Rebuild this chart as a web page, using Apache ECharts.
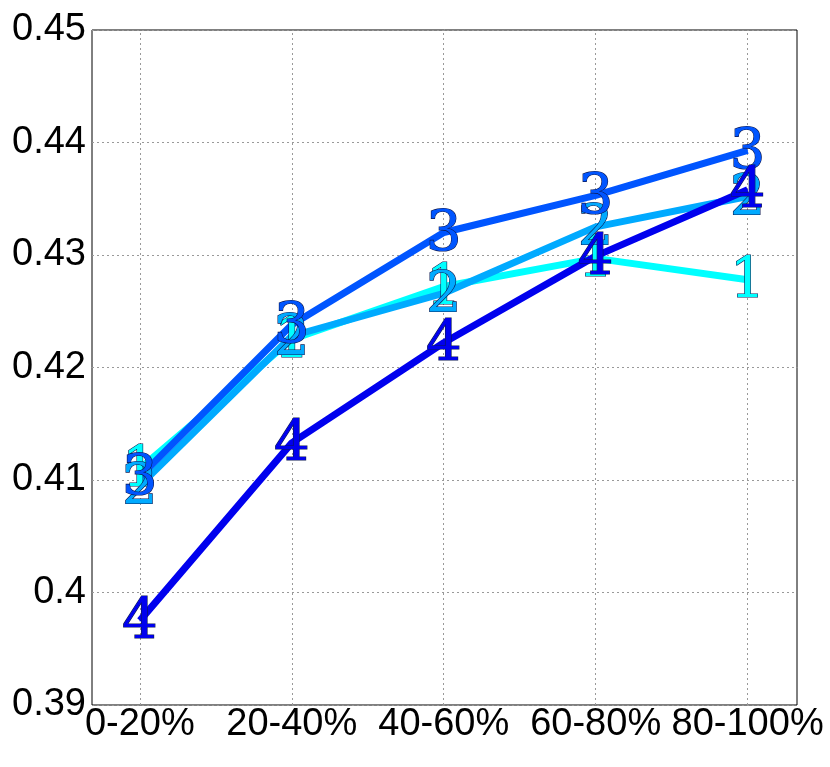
<!DOCTYPE html>
<html>
<head>
<meta charset="utf-8">
<script src="https://cdn.jsdelivr.net/npm/echarts@6/dist/echarts.min.js"></script>
<style>
  html, body { margin: 0; padding: 0; background: #fff; }
  #chart { width: 830px; height: 767px; }
</style>
</head>
<body>
<div id="chart"></div>
<script>
// categories on the x axis
var categories = ['0-20%', '20-40%', '40-60%', '60-80%', '80-100%'];
var yTicks = [0.39, 0.40, 0.41, 0.42, 0.43, 0.44, 0.45];

// one array per curve, marker = series name
var s1 = [0.4110, 0.4225, 0.4272, 0.4297, 0.4278];
var s2 = [0.4095, 0.4228, 0.4266, 0.4325, 0.4352];
var s3 = [0.4103, 0.4238, 0.4320, 0.4353, 0.4393];
var s4 = [0.3975, 0.4133, 0.4222, 0.4299, 0.4358];

var colors = ['#00ffff', '#00aaff', '#0055ff', '#0000ee'];

function pts(arr) {
    return arr.map(function (v, i) { return [i, v]; });
}

function mkSeries(name, data, color) {
    return {
        name: name,
        type: 'line',
        data: pts(data),
        symbol: 'circle',
        symbolSize: 1,
        lineStyle: { color: color, width: 7 },
        itemStyle: { color: color },
        label: {
            show: true,
            position: 'inside',
            formatter: name,
            fontFamily: 'DejaVu Serif',
            fontSize: 56,
            color: color,
            textBorderColor: '#0b1850',
            textBorderWidth: 1.2,
            offset: [0, 3]
        },
        emphasis: { disabled: true }
    };
}

var series = [
    mkSeries('1', s1, colors[0]),
    mkSeries('2', s2, colors[1]),
    mkSeries('3', s3, colors[2]),
    mkSeries('4', s4, colors[3])
];

// vertical dotted grid lines at each category
series[0].markLine = {
    silent: true,
    symbol: 'none',
    label: { show: false },
    lineStyle: { color: '#999', type: [2, 3], width: 1 },
    data: categories.map(function (c, i) { return { xAxis: i }; }),
    z: 0
};

var myChart = echarts.init(document.getElementById('chart'));
var option = {
    animation: false,
    backgroundColor: '#fff',
    grid: {
        left: 92, right: 33, top: 30, bottom: 62,
        show: true, borderColor: '#000', borderWidth: 1, backgroundColor: 'transparent'
    },
    xAxis: {
        type: 'value',
        min: -0.315,
        max: 4.325,
        axisLine: { show: false },
        axisTick: { show: false },
        splitLine: { show: false },
        axisLabel: {
            customValues: [0, 1, 2, 3, 4],
            formatter: function (v) { return categories[Math.round(v)] || ''; },
            fontFamily: 'Liberation Sans',
            fontSize: 38,
            color: '#000',
            margin: 1
        }
    },
    yAxis: {
        type: 'value',
        min: yTicks[0],
        max: yTicks[yTicks.length - 1],
        interval: 0.01,
        axisLine: { show: false },
        axisTick: { show: false },
        splitLine: { show: true, lineStyle: { color: '#999', type: [2, 3], width: 1 } },
        axisLabel: {
            formatter: function (v) { return String(parseFloat(v.toFixed(2))); },
            fontFamily: 'Liberation Sans',
            fontSize: 38,
            color: '#000',
            margin: 6
        }
    },
    series: series
};
myChart.setOption(option);
</script>
</body>
</html>
